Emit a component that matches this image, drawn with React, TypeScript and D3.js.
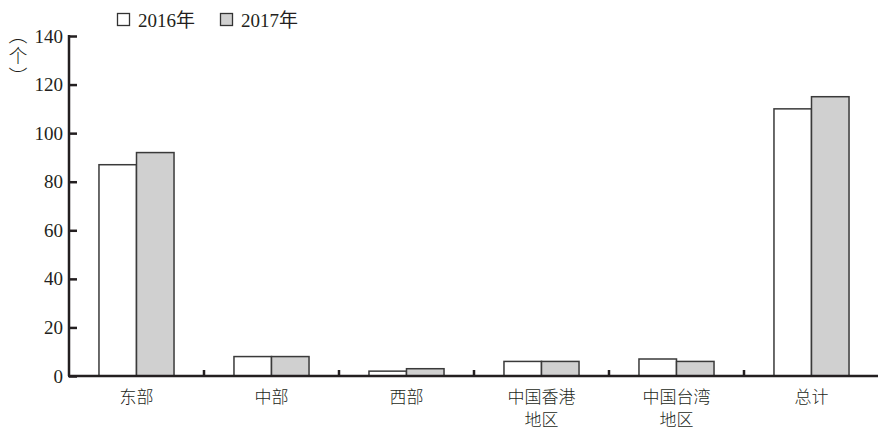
import * as React from 'react';
import { axisLeft, scaleBand, scaleLinear, select } from 'd3';

// data
const categories = ['东部', '中部', '西部', '中国香港\n地区', '中国台湾\n地区', '总计'];
const seriesNames = ['2016年', '2017年'];
const values2016 = [87, 8, 2, 6, 7, 110];
const values2017 = [92, 8, 3, 6, 6, 115];
const yTicks = [0, 20, 40, 60, 80, 100, 120, 140];

const W = 878;
const H = 431;
const margin = { top: 36, right: 0, bottom: 55, left: 69 };
const fills = ['#ffffff', '#d0d0d0'];
const serif = '"Liberation Serif", "Times New Roman", "Noto Sans CJK SC", serif';

const App = () => {
    const yAxisRef = React.useRef<SVGGElement>(null);

    const x = scaleBand<string>()
        .domain(categories)
        .range([margin.left, W - margin.right + 1])
        .paddingInner(0)
        .paddingOuter(0);
    const inner = scaleBand<string>()
        .domain(seriesNames)
        .range([x.bandwidth() * 0.222, x.bandwidth() * 0.778])
        .padding(0);
    const y = scaleLinear().domain([0, 140]).range([H - margin.bottom, margin.top]);

    React.useEffect(() => {
        if (!yAxisRef.current) return;
        const g = select(yAxisRef.current);
        g.call(axisLeft(y).tickValues(yTicks).tickSizeInner(-8).tickSizeOuter(0).tickPadding(6) as any);
        g.select('.domain').remove();
        g.selectAll('line').attr('stroke', '#231f20').attr('stroke-width', 2.5);
        g.selectAll('text')
            .attr('fill', '#231f20')
            .style('font-size', '19px')
            .style('font-family', serif);
    }, []);

    const series = [values2016, values2017];
    const y0 = y(0);

    return (
        <svg width={W} height={H} style={{ position: 'absolute', left: 0, top: 0, background: '#fff' }}>
            {/* legend */}
            <g style={{ fontFamily: serif, fontSize: '19px' }} fill="#231f20">
                {seriesNames.map((s, i) => (
                    <g key={s} transform={`translate(${117 + i * 103}, 0)`}>
                        <rect x={0.5} y={13.5} width={12} height={12} fill={fills[i]} stroke="#333" strokeWidth={1.3} />
                        <text x={21} y={27}>{s}</text>
                    </g>
                ))}
            </g>

            {/* y label, vertical */}
            <text
                x={18}
                y={25}
                fill="#231f20"
                style={{ fontFamily: '"Noto Sans CJK SC", sans-serif', fontSize: '19px', fontWeight: 300, letterSpacing: '2px', writingMode: 'vertical-rl' as any }}
            >（个）</text>

            {/* bars */}
            {categories.map((c, ci) => (
                <g key={c} transform={`translate(${x(c)}, 0)`}>
                    {series.map((vals, si) => (
                        <rect
                            key={si}
                            x={inner(seriesNames[si])}
                            y={y(vals[ci])}
                            width={inner.bandwidth()}
                            height={y0 - y(vals[ci])}
                            fill={fills[si]}
                            stroke="#3a3a3a"
                            strokeWidth={1.5}
                        />
                    ))}
                </g>
            ))}

            {/* y axis */}
            <g ref={yAxisRef} transform={`translate(${margin.left}, 0)`} />
            <line x1={margin.left} x2={margin.left} y1={y(140) - 1} y2={y0} stroke="#231f20" strokeWidth={2.5} />

            {/* x axis */}
            <line x1={margin.left - 1} x2={W} y1={y0} y2={y0} stroke="#231f20" strokeWidth={2.5} />
            {categories.slice(1).map((c) => (
                <line key={c} x1={x(c)} x2={x(c)} y1={y0} y2={y0 - 6} stroke="#231f20" strokeWidth={2.5} />
            ))}
            <g style={{ fontFamily: '"Noto Sans CJK SC", serif', fontSize: '17px', fontWeight: 300 }} fill="#231f20" textAnchor="middle">
                {categories.map((c) => (
                    <text key={c} x={(x(c) as number) + x.bandwidth() / 2} y={403}>
                        {c.split('\n').map((line, li) => (
                            <tspan key={li} x={(x(c) as number) + x.bandwidth() / 2} dy={li === 0 ? 0 : 23}>{line}</tspan>
                        ))}
                    </text>
                ))}
            </g>
        </svg>
    );
};

export default App;
